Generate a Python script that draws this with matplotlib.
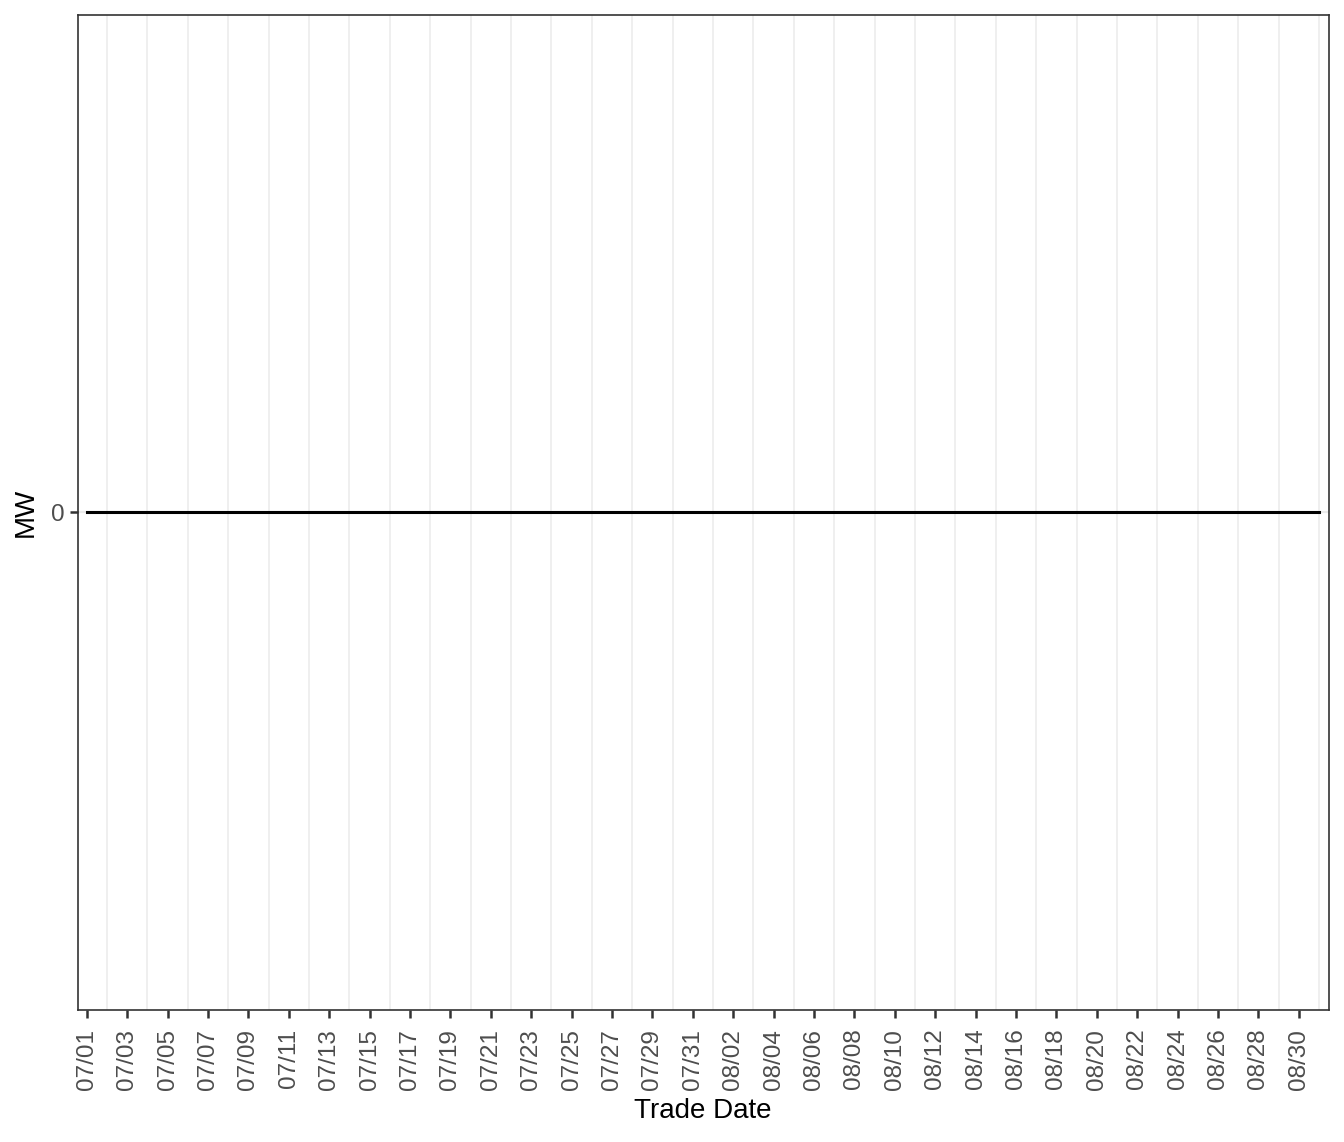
import matplotlib
matplotlib.use("Agg")
import matplotlib.pyplot as plt
import matplotlib.dates as mdates
import pandas as pd

plt.rcParams['font.family'] = ['Liberation Sans', 'DejaVu Sans']

# trade dates shown in the chart
trade_dates = pd.date_range("2023-07-01", "2023-08-31", freq="D")
# MW per day (flat at zero for the whole period)
mw_values = [0, 0, 0, 0, 0, 0, 0, 0, 0, 0,
             0, 0, 0, 0, 0, 0, 0, 0, 0, 0,
             0, 0, 0, 0, 0, 0, 0, 0, 0, 0,
             0, 0, 0, 0, 0, 0, 0, 0, 0, 0,
             0, 0, 0, 0, 0, 0, 0, 0, 0, 0,
             0, 0, 0, 0, 0, 0, 0, 0, 0, 0,
             0, 0]
x_label = "Trade Date"
y_label = "MW"

fig = plt.figure(figsize=(13.44, 11.42), dpi=100)
ax = fig.add_axes([0.0578, 0.1156, 0.9308, 0.8713])

ax.plot(trade_dates, mw_values, color="black", linewidth=2.2, zorder=3)

# ticks every other day, grid on the days in between (ggplot minor breaks look)
major = trade_dates[::2]
minor = trade_dates[1::2]
ax.set_xticks(major)
ax.set_xticks(minor, minor=True)
ax.xaxis.set_major_formatter(mdates.DateFormatter("%m/%d"))
ax.tick_params(axis="x", which="minor", length=0)
ax.grid(True, which="minor", axis="x", color="#EBEBEB", linewidth=1.1)
ax.axhline(0, color="#EBEBEB", linewidth=1.6, zorder=1)

start = mdates.date2num(trade_dates[0])
end = mdates.date2num(trade_dates[-1])
ax.set_xlim(start - 0.45, end + 0.48)
ax.set_ylim(-1, 1)
ax.set_yticks([0])

ax.tick_params(axis="both", which="major", labelsize=17.5, labelcolor="#4D4D4D",
               color="#333333", length=5.5, width=1.8)
ax.tick_params(axis="x", which="major", pad=8)
ax.tick_params(axis="y", which="major", pad=4)
plt.setp(ax.get_xticklabels(), rotation=90, va="top", ha="center")
for s in ax.spines.values():
    s.set_color("#333333")
    s.set_linewidth(1.2)

ax.set_xlabel(x_label, fontsize=20, labelpad=6)
ax.set_ylabel(y_label, fontsize=20, labelpad=9)

fig.savefig("out.png", dpi=100)
